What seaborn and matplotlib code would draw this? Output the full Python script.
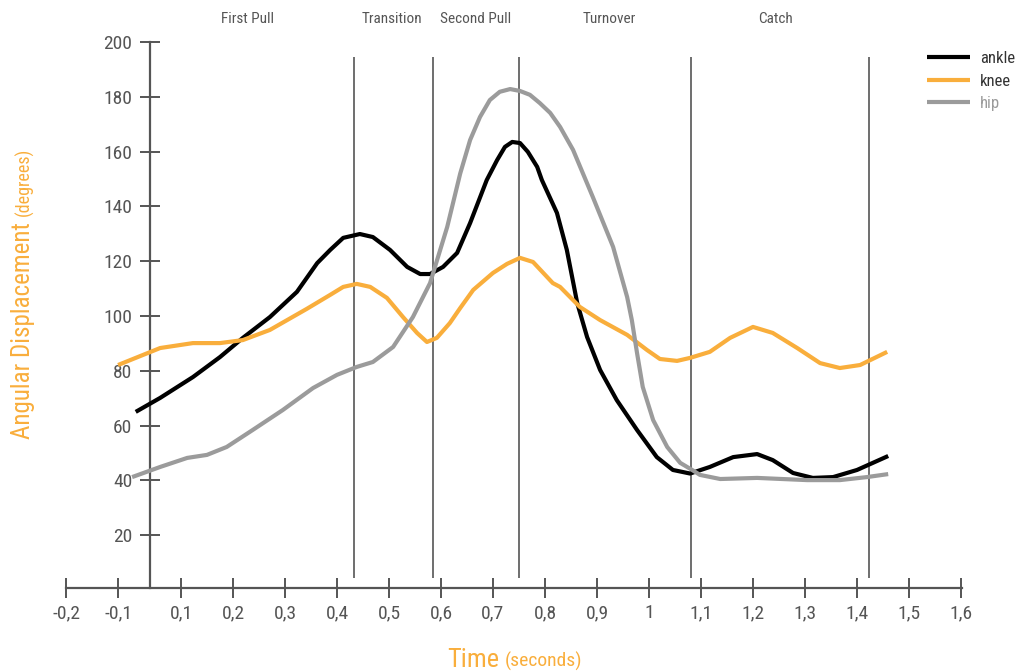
import pandas as pd
import seaborn as sns
import matplotlib.pyplot as plt

# joint angles
ankle_t = [0.013, 0.060, 0.123, 0.175, 0.219, 0.271, 0.323, 0.362, 0.387, 0.412,
           0.444, 0.469, 0.502, 0.535, 0.560, 0.579, 0.604, 0.631, 0.656, 0.688,
           0.708, 0.723, 0.737, 0.752, 0.767, 0.785, 0.794, 0.823, 0.842, 0.862,
           0.881, 0.906, 0.938, 0.977, 1.015, 1.046, 1.079, 1.117, 1.162, 1.208,
           1.238, 1.277, 1.315, 1.354, 1.400, 1.460]
ankle_deg = [65.0, 70.1, 77.7, 85.0, 92.0, 99.6, 108.8, 119.3, 124.1, 128.5,
             129.9, 128.8, 124.1, 117.9, 115.3, 115.3, 117.9, 123.0, 133.9, 149.6,
             156.9, 161.7, 163.5, 163.1, 159.9, 154.4, 149.6, 137.6, 124.1, 104.7,
             92.3, 80.3, 69.3, 58.4, 48.5, 43.8, 42.5, 44.9, 48.5, 49.6,
             47.4, 42.7, 40.9, 41.2, 43.8, 48.9]

knee_t = [-0.021, 0.060, 0.123, 0.175, 0.219, 0.271, 0.342, 0.387, 0.412, 0.438,
          0.464, 0.496, 0.527, 0.554, 0.573, 0.592, 0.617, 0.637, 0.662, 0.700,
          0.727, 0.752, 0.777, 0.815, 0.829, 0.867, 0.906, 0.958, 0.996, 1.021,
          1.054, 1.079, 1.117, 1.156, 1.200, 1.238, 1.285, 1.329, 1.367, 1.406, 1.458]
knee_deg = [82.1, 88.3, 90.1, 90.1, 91.2, 94.9, 102.6, 107.7, 110.6, 111.7,
            110.6, 106.6, 99.6, 93.8, 90.5, 92.0, 97.4, 102.9, 109.5, 115.7,
            119.0, 121.2, 119.7, 112.0, 110.6, 103.3, 98.5, 93.1, 87.6, 84.3,
            83.6, 84.7, 86.9, 92.0, 96.0, 93.8, 88.3, 82.8, 81.0, 82.1, 86.9]

hip_t = [0.006, 0.060, 0.112, 0.150, 0.188, 0.238, 0.296, 0.354, 0.400, 0.438,
         0.469, 0.508, 0.546, 0.579, 0.612, 0.637, 0.656, 0.675, 0.694, 0.713,
         0.733, 0.752, 0.771, 0.790, 0.810, 0.829, 0.854, 0.892, 0.931, 0.958,
         0.967, 0.977, 0.988, 1.008, 1.035, 1.060, 1.083, 1.098, 1.137, 1.208,
         1.304, 1.367, 1.419, 1.460]
hip_deg = [41.2, 44.9, 48.2, 49.3, 52.2, 58.4, 65.7, 73.7, 78.5, 81.4,
           83.2, 88.7, 99.6, 112.0, 132.5, 152.0, 164.2, 172.6, 178.8, 181.8,
           182.8, 182.1, 180.7, 177.7, 174.1, 169.0, 160.6, 143.4, 125.2, 106.9,
           98.5, 86.5, 74.1, 62.0, 52.2, 46.4, 43.8, 42.0, 40.5, 40.9,
           40.1, 40.1, 41.2, 42.3]

phases = ['First Pull', 'Transition', 'Second Pull', 'Turnover', 'Catch']
phase_label_x = [0.227, 0.506, 0.667, 0.923, 1.244]
phase_bounds = [0.433, 0.585, 0.750, 1.081, 1.423]

x_tick_values = [-0.2, -0.1, 0.1, 0.2, 0.3, 0.4, 0.5, 0.6, 0.7, 0.8,
                 0.9, 1.0, 1.1, 1.2, 1.3, 1.4, 1.5, 1.6]
y_tick_values = [20, 40, 60, 80, 100, 120, 140, 160, 180, 200]

colors = {'ankle': '#000000', 'knee': '#F9AE3C', 'hip': '#9B9B9B'}
AXIS = '#555555'
NEG_SHIFT = 0.079   # the negative ticks sit closer to zero in the original


def build_frame():
    parts = []
    for name, t, d in [('ankle', ankle_t, ankle_deg),
                       ('knee', knee_t, knee_deg),
                       ('hip', hip_t, hip_deg)]:
        parts.append(pd.DataFrame({'time': t, 'angle': d, 'joint': name}))
    return pd.concat(parts, ignore_index=True)


def tick_label(v):
    if v == 1.0:
        return '1'
    return f'{v:.1f}'.replace('.', ',')


def main():
    sns.set_style('white')
    plt.rcParams['font.family'] = ['Roboto Condensed', 'Liberation Sans Narrow', 'DejaVu Sans']

    df = build_frame()
    fig = plt.figure(figsize=(10.18, 6.71), dpi=100)
    ax = fig.add_axes([0, 0, 1, 1])

    sns.lineplot(data=df, x='time', y='angle', hue='joint', palette=colors,
                 estimator=None, linewidth=3, ax=ax, zorder=3,
                 solid_joinstyle='round', solid_capstyle='butt')

    ax.set_xlim(-0.248, 1.7096)
    ax.set_ylim(-29.56, 215.3)

    # phase separators and titles
    ax.vlines(phase_bounds, 4.4, 194.5, color=AXIS, linewidth=1.2, zorder=2)
    for name, xc in zip(phases, phase_label_x):
        ax.text(xc, 208.5, name, ha='center', va='center', fontsize=11, color=AXIS)

    # axes drawn as crossing spines
    for s in ['top', 'right']:
        ax.spines[s].set_visible(False)
    ax.spines['left'].set_position(('data', 0.04))
    ax.spines['left'].set_bounds(0.7, 200)
    ax.spines['bottom'].set_position(('data', 0.7))
    ax.spines['bottom'].set_bounds(-0.121, 1.602)
    for s in ['left', 'bottom']:
        ax.spines[s].set_color(AXIS)
        ax.spines[s].set_linewidth(1.6)

    xpos = [v + NEG_SHIFT if v < 0 else v for v in x_tick_values]
    ax.set_xticks(xpos)
    ax.set_xticklabels([tick_label(v) for v in x_tick_values])
    ax.set_yticks(y_tick_values)
    ax.set_yticklabels([str(v) for v in y_tick_values])
    ax.tick_params(axis='both', direction='inout', length=15, width=1.4,
                   color=AXIS, labelcolor=AXIS, labelsize=14,
                   bottom=True, left=True)
    ax.tick_params(axis='x', pad=4)
    ax.tick_params(axis='y', pad=5)
    ax.set_xlabel('')
    ax.set_ylabel('')

    # axis titles
    orange = colors['knee']
    ax.text(499, 4, 'Time', transform=None, ha='right', va='baseline',
            fontsize=19, color=orange)
    ax.text(505, 4, '(seconds)', transform=None, ha='left', va='baseline',
            fontsize=14, color=orange)
    ax.text(30, 671 - 222, 'Angular Displacement', transform=None, rotation=90,
            rotation_mode='anchor', ha='right', va='baseline', fontsize=18, color=orange)
    ax.text(30, 671 - 216, '(degrees)', transform=None, rotation=90,
            rotation_mode='anchor', ha='left', va='baseline', fontsize=13, color=orange)

    leg = ax.legend(loc='upper left', bbox_to_anchor=(912 / 1018, 1 - 36 / 671),
                    frameon=False, fontsize=12, handlelength=2.6, labelspacing=0.45,
                    handletextpad=0.6, title=None)
    for line in leg.get_lines():
        line.set_linewidth(3)
    for txt in leg.get_texts():
        txt.set_color('#9B9B9B' if txt.get_text() == 'hip' else '#333333')

    fig.savefig('out.png', dpi=100)
    plt.close(fig)


if __name__ == '__main__':
    main()
